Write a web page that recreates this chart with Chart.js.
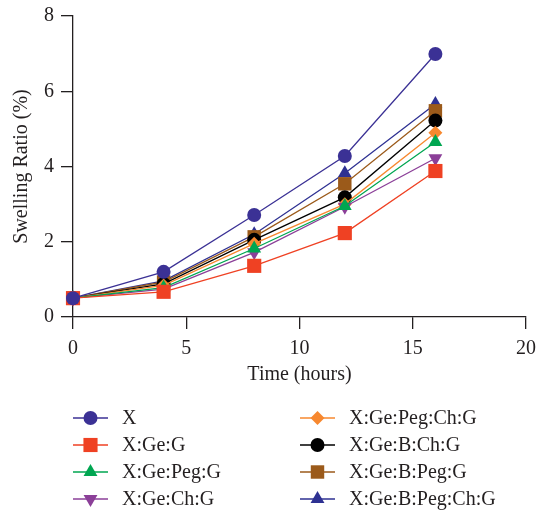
<!DOCTYPE html>
<html>
<head>
<meta charset="utf-8">
<script src="https://cdn.jsdelivr.net/npm/chart.js@4/dist/chart.umd.min.js"></script>
<style>
html,body{margin:0;padding:0;background:#fff;}
#wrap{width:538px;height:513px;position:relative;}
</style>
</head>
<body>
<div id="wrap"><canvas id="c" width="538" height="513"></canvas></div>
<script>
const hours = [0, 4, 8, 12, 16];
const seriesNames = ["X", "X:Ge:G", "X:Ge:Peg:G", "X:Ge:Ch:G", "X:Ge:Peg:Ch:G", "X:Ge:B:Ch:G", "X:Ge:B:Peg:G", "X:Ge:B:Peg:Ch:G"];
const sX          = [0.50, 1.20, 2.71, 4.28, 6.99];
const sXGeG       = [0.50, 0.67, 1.36, 2.23, 3.88];
const sXGePegG    = [0.50, 0.78, 1.82, 2.95, 4.65];
const sXGeChG     = [0.50, 0.74, 1.72, 2.93, 4.22];
const sXGePegChG  = [0.50, 0.84, 1.95, 3.00, 4.90];
const sXGeBChG    = [0.50, 0.88, 2.05, 3.18, 5.22];
const sXGeBPegG   = [0.50, 0.93, 2.13, 3.54, 5.48];
const sXGeBPegChG = [0.50, 0.96, 2.20, 3.82, 5.66];
const yTicks = [0, 2, 4, 6, 8];
const xTicks = [0, 5, 10, 15, 20];

const allSeries = [sX, sXGeG, sXGePegG, sXGeChG, sXGePegChG, sXGeBChG, sXGeBPegG, sXGeBPegChG];
const colors = ["#3b3195", "#ef4123", "#00a651", "#8b3f98", "#f7882f", "#000000", "#9b5a1a", "#2e3192"];
const styles = ["circle", "rect", "triangle", "triangle", "rectRot", "circle", "rect", "triangle"];
const rotations = [0, 0, 0, 180, 0, 0, 0, 0];
const radii = [7, 10, 8, 8, 7, 7, 9.5, 8];

const FONT = "'Liberation Serif', 'Times New Roman', serif";
const TXT = "#231f20";

const datasets = allSeries.map((vals, i) => ({
  label: seriesNames[i],
  data: hours.map((h, j) => ({x: h, y: vals[j]})),
  borderColor: colors[i],
  backgroundColor: colors[i],
  pointBackgroundColor: colors[i],
  pointBorderColor: colors[i],
  pointBorderWidth: 0,
  pointStyle: styles[i],
  pointRotation: rotations[i],
  pointRadius: radii[i],
  pointHoverRadius: radii[i],
  borderWidth: 1.3,
  tension: 0,
  clip: false
}));

const legendPlugin = {
  id: 'customLegend',
  afterDraw(chart) {
    const ctx = chart.ctx;
    const colX = [73, 300];
    const rowY = [418, 445, 472, 499];
    ctx.save();
    chart.data.datasets.forEach((ds, i) => {
      const col = Math.floor(i / 4), row = i % 4;
      const x0 = colX[col], y = rowY[row];
      ctx.strokeStyle = ds.borderColor;
      ctx.lineWidth = 1.3;
      ctx.beginPath();
      ctx.moveTo(x0, y);
      ctx.lineTo(x0 + 35, y);
      ctx.stroke();
      ctx.fillStyle = ds.backgroundColor;
      ctx.strokeStyle = ds.borderColor;
      ctx.lineWidth = 0;
      Chart.helpers.drawPoint(ctx, {pointStyle: ds.pointStyle, rotation: ds.pointRotation, radius: ds.pointRadius, borderWidth: 0}, x0 + 17.5, y);
      ctx.fillStyle = TXT;
      ctx.font = "20px " + FONT;
      ctx.textBaseline = "middle";
      ctx.textAlign = "left";
      ctx.fillText(ds.label, x0 + 49, y + 1);
    });
    ctx.restore();
  }
};

new Chart(document.getElementById('c'), {
  type: 'line',
  data: { datasets },
  plugins: [legendPlugin],
  options: {
    responsive: false,
    animation: false,
    events: [],
    layout: { padding: { left: 0, right: 12, top: 16, bottom: 126 } },
    plugins: { legend: { display: false }, tooltip: { enabled: false } },
    scales: {
      x: {
        type: 'linear',
        min: 0, max: 20,
        afterBuildTicks: (s) => { s.ticks = xTicks.map(v => ({value: v})); },
        afterFit: (s) => { s.height = 70; s.paddingLeft = 0; s.paddingRight = 0; },
        grid: { drawOnChartArea: false, drawTicks: true, tickLength: 12, color: TXT, lineWidth: 1.3 },
        border: { display: true, color: TXT, width: 1.3 },
        ticks: { color: TXT, font: { family: FONT, size: 20 }, padding: 8, maxRotation: 0 },
        title: { display: true, text: 'Time (hours)', color: TXT, font: { family: FONT, size: 20 }, padding: { top: 0, bottom: 0 } }
      },
      y: {
        type: 'linear',
        min: 0, max: 8,
        afterBuildTicks: (s) => { s.ticks = yTicks.map(v => ({value: v})); },
        afterFit: (s) => { s.width = 73; s.paddingTop = 0; s.paddingBottom = 0; },
        grid: { drawOnChartArea: false, drawTicks: true, tickLength: 12, color: TXT, lineWidth: 1.3 },
        border: { display: true, color: TXT, width: 1.3 },
        ticks: { color: TXT, font: { family: FONT, size: 20 }, padding: 7 },
        title: { display: true, text: 'Swelling Ratio (%)', color: TXT, font: { family: FONT, size: 20 }, padding: { top: 10, bottom: 0 } }
      }
    }
  }
});
</script>
</body>
</html>
